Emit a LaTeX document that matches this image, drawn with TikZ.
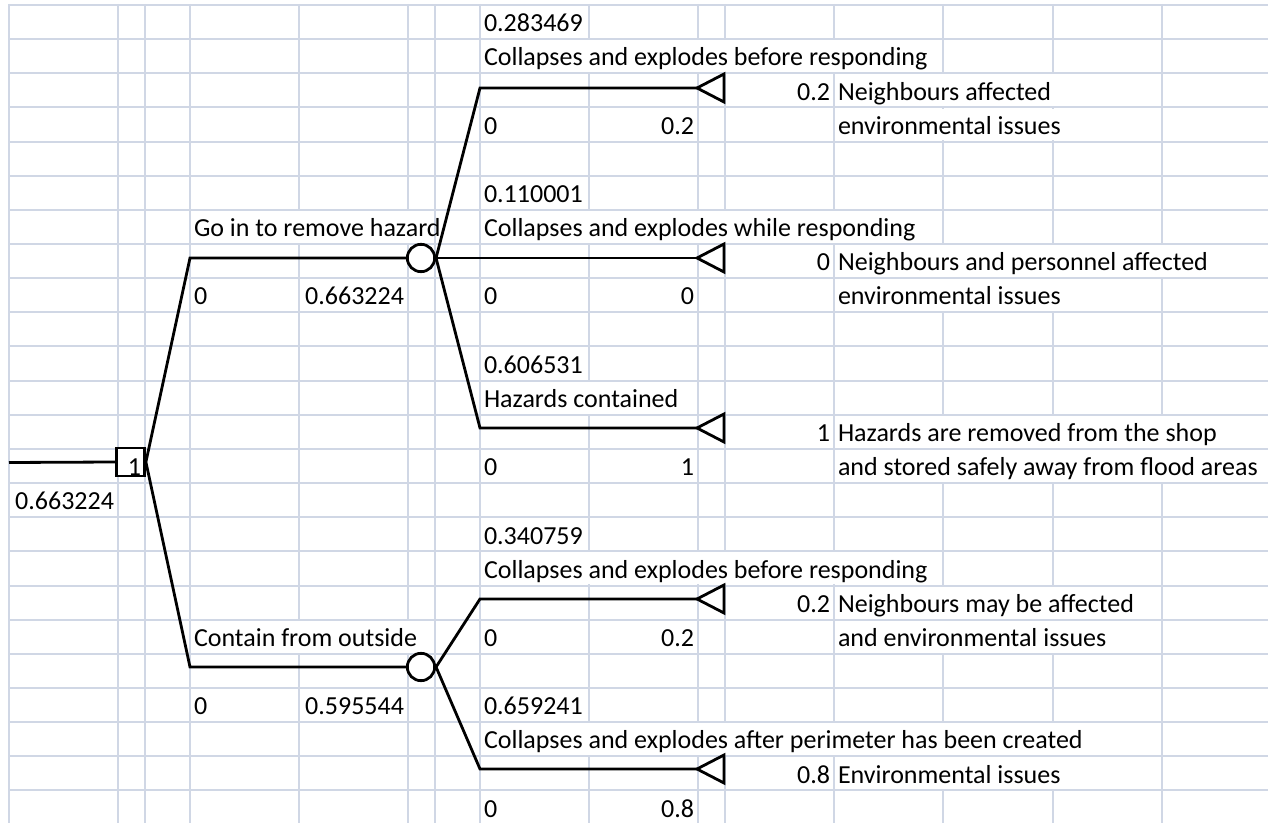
\documentclass[tikz,border=0pt]{standalone}
\usepackage{fontspec}
\setmainfont{Carlito}
\definecolor{gridc}{HTML}{D0D7E5}
\newcommand\TL[4]{\node[lt] (#1) at ({#2+4},{5+34.15*(#3+1)-7.4}) {#4};}
\newcommand\TR[4]{\node[rt] (#1) at ({#2-4},{5+34.15*(#3+1)-7.4}) {#4};}
\begin{document}
\begin{tikzpicture}[x=0.75pt,y=-0.75pt,
  gridln/.style={draw=gridc, line width=1.5pt},
  tree/.style={draw=black, line width=2.1pt, line join=miter},
  lt/.style={anchor=base west, inner sep=0pt, outer sep=0pt},
  rt/.style={anchor=base east, inner sep=0pt, outer sep=0pt},
  dec/.style={draw, line width=2.1pt, rectangle, minimum size=21pt, inner sep=0pt, fill=white},
  chance/.style={draw, line width=2.1pt, circle, minimum size=20.5pt, inner sep=0pt, fill=white},
  term/.style={draw, line width=2.1pt, line join=miter, fill=white},
  font=\fontsize{19.5pt}{23pt}\selectfont]
\useasboundingbox (0,0) rectangle (1268,823);
% grid
\foreach \r in {0,...,23} \draw[gridln] (9,{5+34.15*\r}) -- (1268,{5+34.15*\r});
\foreach \x in {9,118,145,190,299,408,435,480,589,698,725,834,943,1053,1162} \draw[gridln] (\x,4) -- (\x,823);
% gridlines hidden under overflowing text
\foreach \x/\r in {299/6,299/18,408/6,408/18,
  589/1,589/6,589/11,589/16,589/21,
  698/1,698/6,698/16,698/21,
  725/1,725/6,725/16,725/21,
  834/1,834/6,834/16,834/21,
  943/2,943/3,943/7,943/8,943/12,943/13,943/17,943/18,943/21,943/22,
  1053/2,1053/3,1053/7,1053/8,1053/12,1053/13,1053/17,1053/18,1053/21,1053/22,
  1162/7,1162/12,1162/13}
  \fill[white] ({\x-2.5},{5+34.15*\r+1.1}) rectangle ({\x+2.5},{5+34.15*(\r+1)-1.1});
% tree coordinates
\coordinate (root) at (9,462.5);
\coordinate (k1) at (190,258);
\coordinate (k2) at (190,667);
\coordinate (a1) at (480,88);
\coordinate (a2) at (480,258);
\coordinate (a3) at (480,428);
\coordinate (a4) at (480,599);
\coordinate (a5) at (480,769);
\coordinate (T1) at (697,88);
\coordinate (T2) at (697,258);
\coordinate (T3) at (697,428);
\coordinate (T4) at (697,599);
\coordinate (T5) at (697,769);
\node[dec] (D) at (130.5,462) {};
\node[chance] (C1) at (421,258) {};
\node[chance] (C2) at (421,667) {};
% connectors
\draw[tree] (root) -- (D.west);
\draw[tree] (D.east) -- (k1) -- (C1.west);
\draw[tree] (D.east) -- (k2) -- (C2.west);
\draw[tree] (C1.east) -- (a1) -- (T1);
\draw[tree] (C1.east) -- (a2) -- (T2);
\draw[tree] (C1.east) -- (a3) -- (T3);
\draw[tree] (C2.east) -- (a4) -- (T4);
\draw[tree] (C2.east) -- (a5) -- (T5);
% terminal triangles
\foreach \t in {T1,T2,T3,T4,T5}
  \draw[term] (\t) -- ++(27,-14) -- ++(0,28) -- cycle;
% texts
\TL{t1}{480}{0}{0.283469}
\TL{t2}{480}{1}{Collapses and explodes before responding}
\TR{t3}{834}{2}{0.2}
\TL{t4}{834}{2}{Neighbours affected}
\TL{t5}{480}{3}{0}
\TR{t6}{698}{3}{0.2}
\TL{t7}{834}{3}{environmental issues}
\TL{t8}{480}{5}{0.110001}
\TL{t9}{190}{6}{Go in to remove hazard}
\TL{t10}{480}{6}{Collapses and explodes while responding}
\TR{t11}{834}{7}{0}
\TL{t12}{834}{7}{Neighbours and personnel affected}
\TL{t13}{190}{8}{0}
\TR{t14}{408}{8}{0.663224}
\TL{t15}{480}{8}{0}
\TR{t16}{698}{8}{0}
\TL{t17}{834}{8}{environmental issues}
\TL{t18}{480}{10}{0.606531}
\TL{t19}{480}{11}{Hazards contained}
\TR{t20}{834}{12}{1}
\TL{t21}{834}{12}{Hazards are removed from the shop}
\TR{t22}{145}{13}{1}
\TL{t23}{480}{13}{0}
\TR{t24}{698}{13}{1}
\TL{t25}{834}{13}{and stored safely away from flood areas}
\TR{t26}{118}{14}{0.663224}
\TL{t27}{480}{15}{0.340759}
\TL{t28}{480}{16}{Collapses and explodes before responding}
\TR{t29}{834}{17}{0.2}
\TL{t30}{834}{17}{Neighbours may be affected}
\TL{t31}{190}{18}{Contain from outside}
\TL{t32}{480}{18}{0}
\TR{t33}{698}{18}{0.2}
\TL{t34}{834}{18}{and environmental issues}
\TL{t35}{190}{20}{0}
\TR{t36}{408}{20}{0.595544}
\TL{t37}{480}{20}{0.659241}
\TL{t38}{480}{21}{Collapses and explodes after perimeter has been created}
\TR{t39}{834}{22}{0.8}
\TL{t40}{834}{22}{Environmental issues}
\TL{t41}{480}{23}{0}
\TR{t42}{698}{23}{0.8}
\end{tikzpicture}
\end{document}
